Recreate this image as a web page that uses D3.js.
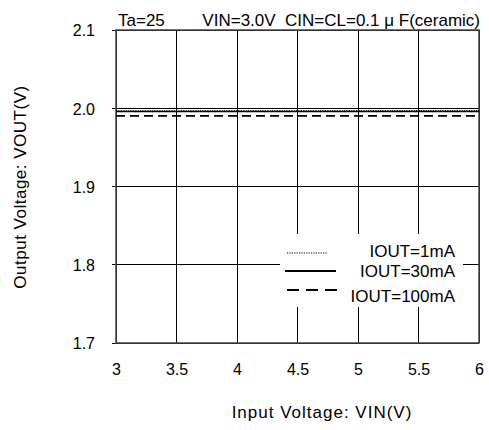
<!DOCTYPE html>
<html><head><meta charset="utf-8">
<script src="https://cdn.jsdelivr.net/npm/d3@7"></script>
<style>body{margin:0;background:#fff}svg{display:block}text{font-family:"Liberation Sans",Arial,sans-serif;fill:#000}</style>
</head><body><svg id="c" width="489" height="430"></svg>
<script>
const vin = [3.0, 3.5, 4.0, 4.5, 5.0, 5.5, 6.0];
const iout1mA = [1.9968, 1.9968, 1.9969, 1.9969, 1.9970, 1.9971, 1.9972];
const iout30mA = [1.9958, 1.9958, 1.9958, 1.9959, 1.9959, 1.9959, 1.9960];
const iout100mA = [1.9902, 1.9902, 1.9902, 1.9903, 1.9903, 1.9903, 1.9903];
const xTicks = [3, 3.5, 4, 4.5, 5, 5.5, 6];
const yTicks = [1.7, 1.8, 1.9, 2.0, 2.1];
const seriesNames = ["IOUT=1mA", "IOUT=30mA", "IOUT=100mA"];

const svg = d3.select("#c");
const L = 116, R = 479, T = 30, B = 343;
const x = d3.scaleLinear().domain([3, 6]).range([L, R]);
const y = d3.scaleLinear().domain([1.7, 2.1]).range([B, T]);
const fs = 16;

// gridlines
svg.append("g").selectAll("line").data(xTicks).join("line")
  .attr("x1", d => x(d)).attr("x2", d => x(d)).attr("y1", T).attr("y2", B)
  .attr("stroke", "#000").attr("stroke-width", 1).attr("shape-rendering", "crispEdges");
svg.append("g").selectAll("line").data(yTicks).join("line")
  .attr("x1", L - 4).attr("x2", R).attr("y1", d => y(d)).attr("y2", d => y(d))
  .attr("stroke", "#000").attr("stroke-width", 1).attr("shape-rendering", "crispEdges");

// frame
svg.append("rect").attr("x", L).attr("y", T).attr("width", R - L).attr("height", B - T)
  .attr("fill", "none").attr("stroke", "#444").attr("stroke-width", 1.5);

// axis tick labels via d3 axes (no domain)
const xa = svg.append("g").attr("transform", `translate(0,${B})`)
  .call(d3.axisBottom(x).tickValues(xTicks).tickSize(0).tickPadding(21).tickFormat(d3.format("")));
const ya = svg.append("g").attr("transform", `translate(${L},0)`)
  .call(d3.axisLeft(y).tickValues(yTicks).tickSize(0).tickPadding(21).tickFormat(d3.format(".1f")));
[xa, ya].forEach(g => { g.select(".domain").remove(); g.selectAll("text").attr("font-size", fs).attr("font-family", "Liberation Sans, Arial, sans-serif"); });
ya.selectAll("text").attr("dy", "0.36em");

// series
const styles = [
  {dash: "1.2,1.2", w: 1},
  {dash: null, w: 1.5},
  {dash: "9,5", w: 1.6}
];
const data = [iout1mA, iout30mA, iout100mA];
const line = d3.line().x((d, i) => x(vin[i])).y(d => y(d));
data.forEach((s, k) => {
  svg.append("path").datum(s).attr("d", line).attr("fill", "none")
    .attr("stroke", "#000").attr("stroke-width", styles[k].w)
    .attr("stroke-dasharray", styles[k].dash);
});

// legend
const lg = svg.append("g");
lg.append("rect").attr("x", 280).attr("y", 234).attr("width", 183).attr("height", 73).attr("fill", "#fff");
const ly = [253, 271, 290];
const lt = [257, 277, 302];
const lx = [[287, 327], [285, 336], [287, 337]];
seriesNames.forEach((n, k) => {
  lg.append("line").attr("x1", lx[k][0]).attr("x2", lx[k][1]).attr("y1", ly[k]).attr("y2", ly[k])
    .attr("stroke", "#000").attr("stroke-width", k === 0 ? 1 : 1.8)
    .attr("stroke-dasharray", k === 0 ? "1.2,1.2" : (k === 2 ? "12,7" : null));
  lg.append("text").attr("x", 455).attr("y", lt[k]).attr("text-anchor", "end")
    .attr("font-size", 17).text(n);
});

// header text
svg.append("text").attr("x", 118).attr("y", 26).attr("font-size", 17).text("Ta=25");
svg.append("text").attr("x", 480).attr("y", 26).attr("text-anchor", "end").attr("font-size", 17)
  .text("VIN=3.0V\u00a0\u00a0CIN=CL=0.1 μ F(ceramic)");

// axis titles
svg.append("text").attr("x", 322).attr("y", 418).attr("text-anchor", "middle").attr("font-size", 17)
  .attr("letter-spacing", 1).text("Input Voltage: VIN(V)");
svg.append("text").attr("transform", "translate(26,187) rotate(-90)").attr("text-anchor", "middle")
  .attr("font-size", 17).attr("letter-spacing", 0.5).text("Output Voltage: VOUT(V)");
</script></body></html>
